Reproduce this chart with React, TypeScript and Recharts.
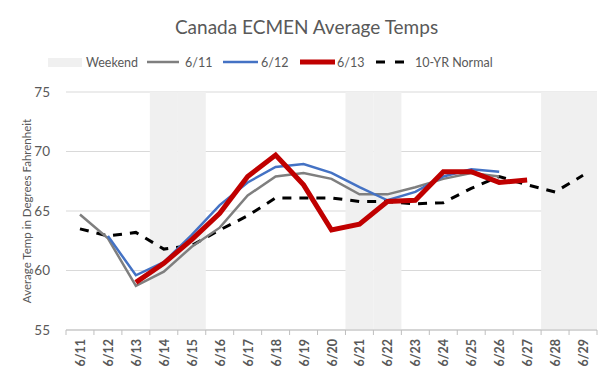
import React from "react";
import { ComposedChart, Bar, Line, XAxis, YAxis, CartesianGrid } from "recharts";

const dates = ["6/11","6/12","6/13","6/14","6/15","6/16","6/17","6/18","6/19","6/20","6/21","6/22","6/23","6/24","6/25","6/26","6/27","6/28","6/29"];
const weekend = [null,null,null,75,75,null,null,null,null,null,75,75,null,null,null,null,null,75,75];
const run0611 = [64.7,62.7,58.7,59.9,62.0,63.6,66.3,67.9,68.2,67.7,66.4,66.4,67.0,67.7,68.2,67.9,null,null,null];
const run0612 = [null,62.9,59.6,60.7,63.0,65.5,67.4,68.7,68.95,68.2,67.0,65.9,66.6,67.9,68.5,68.3,null,null,null];
const run0613 = [null,null,59.0,60.6,62.6,64.8,67.9,69.7,67.2,63.4,63.9,65.8,65.9,68.3,68.3,67.4,67.6,null,null];
const normal10 = [63.5,62.9,63.2,61.8,62.1,63.4,64.6,66.1,66.1,66.1,65.8,65.8,65.6,65.7,66.9,67.9,67.2,66.6,68.0];
const yTicks = [55,60,65,70,75];

const data = dates.map((d, i) => ({
  date: d,
  weekend: weekend[i],
  r11: run0611[i],
  r12: run0612[i],
  r13: run0613[i],
  normal: normal10[i],
}));

const FONT = "Lato, 'Open Sans', sans-serif";
const TXT = "#595959";

const XTick = (props: any) => {
  const { x, y, payload, index } = props;
  const half = 531 / 19 / 2;
  return (
    <g>
      <line x1={x - half} x2={x - half} y1={y - 8} y2={y - 3} stroke="#bfbfbf" />
      {index === dates.length - 1 && (
        <line x1={x + half} x2={x + half} y1={y - 8} y2={y - 3} stroke="#bfbfbf" />
      )}
      <text
        x={0}
        y={0}
        transform={`translate(${x + 5},${y + 1}) rotate(-90)`}
        textAnchor="end"
        fontSize={12.5}
        fontWeight={700}
        fill={TXT}
        fontFamily={FONT}
      >
        {payload.value}
      </text>
    </g>
  );
};

const legendItems = [
  { label: "Weekend", kind: "box", sx: 48, sw: 34, tx: 86 },
  { label: "6/11", kind: "line", color: "#7f7f7f", w: 2.5, sx: 147, sw: 32, tx: 185 },
  { label: "6/12", kind: "line", color: "#4472c4", w: 2.5, sx: 223, sw: 35, tx: 261 },
  { label: "6/13", kind: "line", color: "#c00000", w: 5, sx: 300, sw: 35, tx: 337 },
  { label: "10-YR Normal", kind: "dash", color: "#000000", w: 3, sx: 376, sw: 28, tx: 415 },
];

export default function App() {
  return (
    <div style={{ position: "absolute", left: 0, top: 0, width: 613, height: 375, background: "#fff", fontFamily: FONT }}>
      <div style={{ position: "absolute", top: 15, left: 0, width: 613, textAlign: "center", fontSize: 19, color: TXT }}>
        Canada ECMEN Average Temps
      </div>
      <svg style={{ position: "absolute", left: 0, top: 52 }} width={613} height={20}>
        {legendItems.map((it, i) => (
          <g key={i}>
            {it.kind === "box" && <rect x={it.sx} y={6} width={it.sw} height={9} fill="#f0f0f0" />}
            {it.kind === "line" && <line x1={it.sx} x2={it.sx + it.sw} y1={10} y2={10} stroke={it.color} strokeWidth={it.w} />}
            {it.kind === "dash" && <line x1={it.sx} x2={it.sx + it.sw} y1={10} y2={10} stroke={it.color} strokeWidth={it.w} strokeDasharray="9 10" />}
            <text x={it.tx} y={14.5} fontSize={12.5} fill={TXT} fontFamily={FONT}>{it.label}</text>
          </g>
        ))}
      </svg>
      <ComposedChart
        width={613}
        height={375}
        data={data}
        margin={{ top: 92, right: 16, left: 0, bottom: 0 }}
        barCategoryGap={0}
        barGap={0}
      >
        <CartesianGrid vertical={false} stroke="#d9d9d9" />
        <XAxis
          dataKey="date"
          interval={0}
          height={45}
          tickLine={false}
          axisLine={{ stroke: "#bfbfbf" }}
          tick={<XTick />}
        />
        <YAxis
          domain={[55, 75]}
          ticks={yTicks}
          width={66}
          axisLine={false}
          tickLine={false}
          tick={{ fontSize: 13.5, fill: TXT, fontFamily: FONT }}
          tickMargin={10}
          label={{
            value: "Average Temp in Degrees Fahrenheit",
            angle: -90,
            position: "insideLeft",
            dx: 22,
            fontSize: 11.5,
            fill: TXT,
            fontFamily: FONT,
            style: { textAnchor: "middle" },
          }}
        />
        <Bar dataKey="weekend" fill="#f0f0f0" isAnimationActive={false} />
        <Line dataKey="normal" stroke="#000000" strokeWidth={3} strokeDasharray="9 8" dot={false} isAnimationActive={false} type="linear" />
        <Line dataKey="r11" stroke="#7f7f7f" strokeWidth={2.5} dot={false} isAnimationActive={false} type="linear" />
        <Line dataKey="r12" stroke="#4472c4" strokeWidth={2.5} dot={false} isAnimationActive={false} type="linear" />
        <Line dataKey="r13" stroke="#c00000" strokeWidth={5} dot={false} isAnimationActive={false} type="linear" />
      </ComposedChart>
    </div>
  );
}
